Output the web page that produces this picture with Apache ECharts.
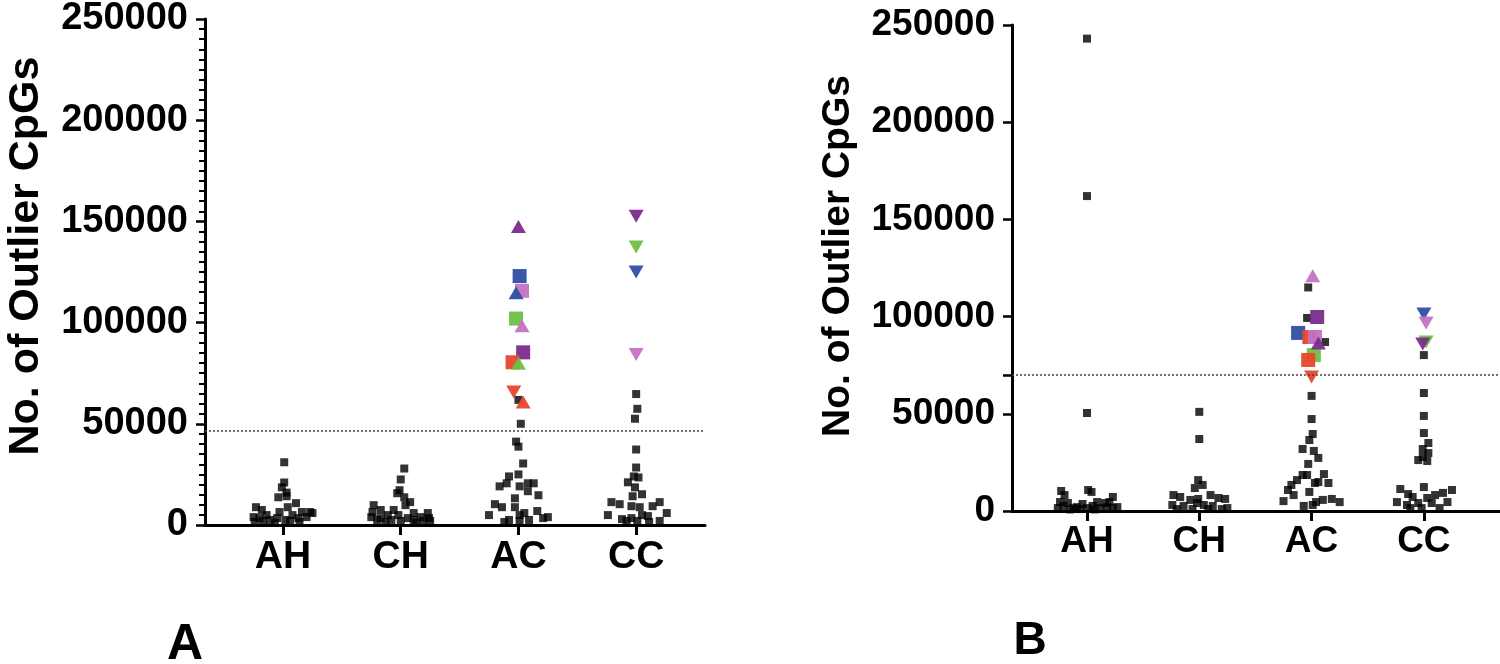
<!DOCTYPE html>
<html>
<head>
<meta charset="utf-8">
<script src="https://cdn.jsdelivr.net/npm/echarts@6/dist/echarts.min.js"></script>
<style>html,body{margin:0;padding:0;background:#fff;}#c{width:1500px;height:664px;}</style>
</head>
<body>
<div id="c"></div>
<script>
// ---------- DATA ----------
const categories = ['AH', 'CH', 'AC', 'CC'];
const yTicks = [0, 50000, 100000, 150000, 200000, 250000];
const yTitle = 'No. of Outlier CpGs';
const panelLetters = ['A', 'B'];
const thresholdA = 46500;
const thresholdB = 70000;

// Panel A – black points: [x-jitter (category units), value]
const A_AH = [[0.01,31000],[0.01,21000],[-0.01,18600],[0.03,16000],[-0.04,13700],[0.03,14200],[0.11,10800],[-0.23,8800],[0.04,8800],[-0.18,7400],[-0.03,6400],[0.16,6400],[0.23,6400],[-0.25,3900],[-0.14,4900],[0.08,4900],[-0.05,3400],[-0.2,3400],[0.13,3400],[0.2,3900],[0.25,5900],[-0.11,2500],[0.02,2500],[0.06,2000],[-0.17,2000],[0.14,1500],[-0.07,1000],[-0.24,1500]];
const A_CH = [[0.03,27900],[0,22500],[-0.01,17200],[-0.03,15700],[0.03,13700],[0.08,11300],[0.04,9800],[-0.23,9800],[-0.17,7400],[-0.24,6400],[-0.06,7400],[0.11,5900],[0.23,5900],[-0.11,4900],[-0.02,4900],[0.17,3900],[-0.25,3900],[-0.17,3400],[0.06,3400],[0.24,3400],[-0.08,2500],[0.11,2500],[0,2000],[0.19,2000],[-0.2,2500],[0.25,2000],[-0.13,1500],[0.13,1200]];
const A_AC = [[0,61800],[0.02,50000],[-0.02,41200],[0,38700],[0.04,30400],[-0.08,24000],[0,25000],[-0.16,19100],[-0.1,20600],[0.01,19100],[0.08,20600],[0.13,20600],[0.08,16700],[0.17,14700],[-0.03,13200],[-0.2,10300],[-0.14,8800],[-0.03,8800],[-0.25,4900],[0.01,4900],[0.16,6900],[0.05,5900],[0.25,3900],[-0.08,2500],[0.09,2500],[0.21,3400],[0.01,2000],[-0.12,1500]];
const A_CC = [[0,64700],[0.01,57400],[-0.01,52500],[0,37300],[0,28400],[-0.02,24000],[0.02,23500],[-0.07,21100],[-0.01,18600],[-0.03,14200],[0.05,15200],[-0.21,11300],[-0.14,10300],[0.03,8800],[0.2,11300],[0.14,9300],[-0.04,9300],[-0.24,4900],[-0.12,2900],[-0.04,3400],[0.05,4900],[0.1,4400],[0.26,5900],[0.01,2000],[-0.08,2000],[0.2,2000],[0.11,1500]];

// Panel B – black points
const B_AH = [[0,243000],[0,162000],[0,50400],[-0.23,10300],[-0.2,8200],[0.01,10800],[0.04,9800],[0.23,7200],[-0.24,4600],[-0.17,4100],[-0.04,3600],[0.09,4600],[0.16,4100],[0.2,4600],[-0.26,1500],[-0.12,1500],[0,1500],[0.12,1500],[0.23,1500],[-0.21,2600],[0.05,2600],[0.27,2000],[-0.09,2000],[0.18,2000],[-0.06,1000],[0.07,800],[-0.15,800]];
const B_CH = [[0,51000],[0,37000],[-0.01,15900],[0.03,13400],[-0.04,11800],[-0.23,8200],[-0.17,7200],[0.1,8200],[0.17,6700],[0.23,6200],[-0.08,5700],[-0.01,6200],[-0.24,3100],[-0.14,2600],[0.04,3100],[0.12,2600],[0.25,1500],[-0.2,1000],[-0.06,1000],[0.08,1000],[0.2,1000],[-0.02,4100]];
const B_AC = [[-0.03,115000],[-0.04,99300],[0.12,86900],[0,59200],[0,47300],[0.01,39600],[-0.02,36500],[-0.08,31900],[0.02,30900],[0.06,27300],[-0.03,24200],[-0.08,18500],[-0.04,18500],[0.11,19000],[-0.13,15900],[0.03,14400],[0.06,14900],[0.15,14400],[-0.18,13400],[-0.21,10800],[-0.16,8200],[-0.02,9800],[-0.25,5100],[-0.07,2600],[0.04,4600],[0.1,5700],[0.18,6200],[0.25,4600],[0.01,3100]];
const B_CC = [[0,80200],[0,60700],[0,48900],[0,40100],[0.04,35000],[-0.01,31900],[0.04,29800],[-0.01,27800],[-0.05,26200],[0.03,25700],[0,12300],[-0.21,11300],[-0.14,8700],[-0.24,4600],[-0.1,7200],[0.03,6700],[0.1,8200],[0.17,9300],[0.25,10800],[-0.15,3100],[-0.05,4100],[0.07,4100],[0.21,4600],[-0.12,1500],[-0.02,1500],[0.14,1500]];

// Highlighted individuals: [category, x-jitter, value, marker, individual]
const A_highlight = [
  ['AC',0.01,123000,'square','blue'],['AC',0.03,115700,'square','pink'],['AC',-0.02,102000,'square','green'],
  ['AC',0.04,85300,'square','purple'],['AC',-0.05,80400,'square','red'],
  ['AC',0,147500,'up','purple'],['AC',-0.02,114700,'up','blue'],['AC',0.03,98500,'up','pink'],
  ['AC',0,79900,'up','green'],['AC',-0.04,65700,'down','red'],['AC',0.04,60800,'up','red'],
  ['CC',0,152500,'down','purple'],['CC',0,137300,'down','green'],['CC',0,125000,'down','blue'],['CC',0,84300,'down','pink']
];
const B_highlight = [
  ['AC',0.05,99800,'square','purple'],['AC',-0.12,91600,'square','blue'],['AC',-0.02,89500,'square','red'],
  ['AC',0.03,89500,'square','pink'],['AC',0.02,80200,'square','green'],['AC',-0.03,77700,'square','red'],
  ['AC',0.01,121000,'up','pink'],['AC',0.06,86400,'up','purple'],['AC',0,68900,'down','red'],
  ['CC',0,101300,'down','blue'],['CC',0.02,96700,'down','pink'],['CC',0.02,86900,'down','green'],['CC',-0.01,85900,'down','purple']
];

// ---------- STYLE ----------
const colorOf = {purple:'#7B2C8C', blue:'#2F4FA3', pink:'#C472C2', green:'#6FBE46', red:'#E6462B'};
const FONT = '"Liberation Sans", Arial, sans-serif';

function blackPts(groups) {
  const out = [];
  groups.forEach((g, i) => g.forEach(p => out.push([i + 1 + p[0], p[1]])));
  return out;
}
function hlPts(list) {
  return list.map(h => {
    const ci = categories.indexOf(h[0]) + 1;
    const shape = h[3];
    return {
      value: [ci + h[1], h[2]],
      symbol: shape === 'square' ? 'rect' : 'triangle',
      symbolSize: shape === 'square' ? 14 : [15, 13],
      symbolRotate: shape === 'down' ? 180 : 0,
      itemStyle: {color: colorOf[h[4]], opacity: 0.95}
    };
  });
}

function xAxisCfg(gi, min, max, margin, fs) {
  return {
    type: 'value', gridIndex: gi, min: min, max: max,
    splitLine: {show: false},
    axisLine: {show: true, onZero: false, lineStyle: {color: '#000', width: 3}},
    axisTick: {show: true, customValues: [1, 2, 3, 4], length: 10, lineStyle: {color: '#000', width: 3}},
    axisLabel: {show: true, customValues: [1, 2, 3, 4], formatter: v => categories[Math.round(v) - 1] || '',
      fontSize: fs, fontWeight: 'bold', fontFamily: FONT, color: '#000', margin: margin}
  };
}
function yAxisCfg(gi, minor, fs, extraTick) {
  const cfg = {
    type: 'value', gridIndex: gi, min: 0, max: 250000, interval: 50000,
    splitLine: {show: false},
    axisLine: {show: true, lineStyle: {color: '#000', width: 3}},
    axisTick: {show: true, length: 9, lineStyle: {color: '#000', width: 2.5}},
    minorTick: {show: minor, splitNumber: 10, length: 6, lineStyle: {color: '#000', width: 2}},
    axisLabel: {fontSize: fs, fontWeight: 'bold', fontFamily: FONT, color: '#000', margin: 17,
      formatter: v => String(v)}
  };
  if (extraTick != null) cfg.axisTick.customValues = yTicks.concat([extraTick]);
  return cfg;
}
function mark(y) {
  return {silent: true, symbol: ['none', 'none'], label: {show: false},
    lineStyle: {type: [2, 2], color: '#444', width: 1.5}, data: [{yAxis: y}]};
}

const chart = echarts.init(document.getElementById('c'), null, {renderer: 'canvas'});
chart.setOption({
  animation: false,
  backgroundColor: '#fff',
  grid: [
    {left: 205, right: 795, top: 15, bottom: 139},
    {left: 1012, right: 0, top: 25, bottom: 153}
  ],
  xAxis: [xAxisCfg(0, 0.337, 4.585, 13, 39), xAxisCfg(1, 0.332, 4.678, 12, 37)],
  yAxis: [yAxisCfg(0, true, 38, null), yAxisCfg(1, false, 37, thresholdB)],
  series: [
    {type: 'scatter', xAxisIndex: 0, yAxisIndex: 0, symbol: 'rect', symbolSize: 8,
      itemStyle: {color: '#000'}, data: blackPts([A_AH, A_CH, A_AC, A_CC]), markLine: mark(thresholdA), z: 3},
    {type: 'scatter', xAxisIndex: 0, yAxisIndex: 0, data: hlPts(A_highlight), z: 4},
    {type: 'scatter', xAxisIndex: 1, yAxisIndex: 1, symbol: 'rect', symbolSize: 8,
      itemStyle: {color: '#000'}, data: blackPts([B_AH, B_CH, B_AC, B_CC]), markLine: mark(thresholdB), z: 3},
    {type: 'scatter', xAxisIndex: 1, yAxisIndex: 1, data: hlPts(B_highlight), z: 4}
  ],
  graphic: [
    {type: 'text', x: 26, y: 256, rotation: Math.PI / 2,
      style: {text: yTitle, fontSize: 43, fontWeight: 'bold', fontFamily: FONT, fill: '#000', align: 'center', verticalAlign: 'middle'}},
    {type: 'text', x: 838, y: 256, rotation: Math.PI / 2,
      style: {text: yTitle, fontSize: 39, fontWeight: 'bold', fontFamily: FONT, fill: '#000', align: 'center', verticalAlign: 'middle'}},
    {type: 'text', x: 185, y: 645,
      style: {text: panelLetters[0], fontSize: 50, fontWeight: 'bold', fontFamily: FONT, fill: '#000', align: 'center', verticalAlign: 'middle'}},
    {type: 'text', x: 1030, y: 641,
      style: {text: panelLetters[1], fontSize: 46, fontWeight: 'bold', fontFamily: FONT, fill: '#000', align: 'center', verticalAlign: 'middle'}}
  ]
});
</script>
</body>
</html>
